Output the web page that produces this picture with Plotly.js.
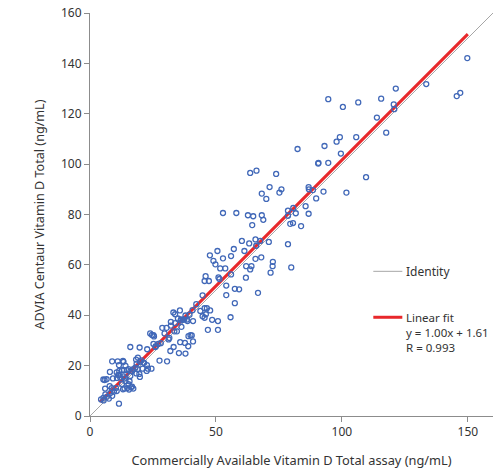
<!DOCTYPE html>
<html><head><meta charset="utf-8">
<script src="https://cdn.plot.ly/plotly-3.0.1.min.js"></script>
<style>html,body{margin:0;padding:0;background:#fff}#chart{width:504px;height:475px}</style>
</head><body><div id="chart"></div>
<script>
// Sample values: Commercial assay (x) vs ADVIA Centaur (y), ng/mL
const commercial = [149.8,145.6,147.0,133.5,121.4,120.6,120.8,115.6,94.6,100.4,106.5,113.9,117.6,99.2,97.9,105.7,82.4,93.1,99.6,90.6,90.7,94.6,109.6,86.8,86.9,88.5,92.7,101.8,89.8,85.6,86.8,83.8,80.7,81.7,80.6,
63.6,66.1,73.9,71.3,76.0,75.2,68.2,70.0,58.1,52.8,62.7,64.8,68.2,68.8,64.4,78.6,78.6,79.5,60.3,65.7,63.2,71.0,66.0,67.6,57.1,61.3,78.6,56.0,65.7,68.0,72.6,72.5,62.0,64.1,63.6,79.9,71.7,61.9,56.0,47.6,50.6,49.0,49.8,52.8,51.7,53.7,66.7,
57.5,59.2,54.1,54.1,57.5,55.8,45.9,45.5,47.2,51.0,51.4,44.7,48.5,50.8,46.8,50.8,45.5,46.4,43.8,47.7,46.0,45.5,44.7,42.2,40.7,39.5,38.5,37.0,36.0,37.9,40.9,38.7,32.1,32.1,33.8,30.4,28.7,33.1,33.8,35.7,34.5,40.4,25.2,23.9,31.5,29.6,36.3,33.5,24.6,25.4,26.1,28.1,31.2,31.9,33.2,27.6,30.6,35.3,37.9,35.8,37.7,39.1,39.0,39.9,40.9,
16.0,19.7,19.0,18.3,19.8,18.5,21.5,22.6,20.9,23.0,24.4,22.5,13.3,12.7,14.7,16.7,18.4,22.7,8.8,13.1,11.0,20.4,21.2,11.5,13.5,15.3,16.1,17.2,18.0,18.9,14.1,7.9,10.6,11.5,10.7,12.0,13.3,13.9,16.0,14.1,15.7,15.3,14.8,16.7,15.5,16.3,17.2,13.1,13.7,12.7,19.8,9.1,5.3,5.8,6.6,6.0,7.8,8.6,6.1,6.7,5.3,4.4,5.4,7.5,8.8,8.1,9.5,10.3,10.6,11.5,19.6,11.6,11.2,25.2,27.1,26.0,37.4,36.1,34.9];
const centaur = [142.1,127.0,128.3,131.8,130.0,123.7,121.8,126.0,125.8,122.7,124.5,118.5,112.5,110.7,108.9,110.7,106.0,107.2,104.2,100.2,100.5,100.5,94.8,90.9,90.0,89.7,89.1,88.7,86.4,83.3,80.3,75.4,82.6,80.5,76.6,
96.5,97.4,96.1,90.9,90.0,88.7,88.3,86.2,80.6,80.6,79.7,79.3,79.7,77.9,75.8,81.5,79.5,76.3,69.5,70.1,68.5,69.1,67.6,69.5,66.3,65.5,68.2,63.5,62.4,63.0,61.2,59.5,59.5,59.5,58.2,59.0,56.9,54.9,56.2,63.8,65.5,61.6,60.2,62.6,58.6,58.6,48.9,
50.5,50.3,51.8,48.0,44.8,39.2,55.5,53.6,53.6,55.0,54.4,47.9,38.2,37.7,34.2,34.2,42.8,42.8,41.7,41.9,40.4,39.0,39.6,44.4,42.0,40.2,38.3,38.3,37.9,39.9,37.7,37.7,37.4,35.9,36.9,35.0,35.0,41.1,40.4,41.9,33.6,32.0,32.1,32.8,31.0,32.8,35.4,33.6,32.2,31.6,27.7,28.9,30.4,25.8,27.4,22.0,21.7,25.0,24.8,29.3,29.0,31.7,27.7,32.1,29.6,
27.4,27.2,23.2,22.4,21.5,20.8,21.1,20.2,18.8,18.8,18.8,17.9,21.5,18.2,18.2,17.8,16.9,26.5,21.7,21.9,21.7,22.1,21.2,20.2,18.2,18.6,17.9,18.6,19.2,18.6,19.9,17.5,17.3,16.2,15.1,15.3,15.7,14.9,15.9,13.8,13.8,12.6,11.1,11.7,10.5,11.4,10.9,10.6,10.9,12.7,15.5,14.9,14.5,14.3,14.6,10.9,11.9,11.1,8.6,7.6,7.2,6.6,6.2,6.9,8.0,9.1,9.7,11.1,9.9,4.9,16.7,17.9,16.3,28.6,28.6,27.4,38.3,38.4,38.7];
const identityX = [0, 160];
const fitSlope = 1.00, fitIntercept = 1.61;
const fitX = [4, 150];
const xTicks = [0, 50, 100, 150];
const yTicks = [0, 20, 40, 60, 80, 100, 120, 140, 160];
const xTitle = 'Commercially Available Vitamin D Total assay (ng/mL)';
const yTitle = 'ADVIA Centaur Vitamin D Total (ng/mL)';
const legendTexts = ['Identity', 'Linear fit', 'y = 1.00x + 1.61', 'R = 0.993'];

const FONT = 'Noto Sans, Open Sans, sans-serif';
const traces = [
  {x: identityX, y: identityX, mode: 'lines', line: {color: '#a6a6a6', width: 1}, hoverinfo: 'skip', showlegend: false},
  {x: fitX, y: fitX.map(v => fitSlope * v + fitIntercept), mode: 'lines', line: {color: '#e8282b', width: 3}, hoverinfo: 'skip', showlegend: false},
  {x: commercial, y: centaur, mode: 'markers', cliponaxis: false,
   marker: {symbol: 'circle-open', size: 5, color: '#4168b8', line: {width: 1.3, color: '#4168b8'}}, showlegend: false}
];
const axisCommon = {showgrid: false, zeroline: false, showline: true, linecolor: '#8c8c8c', linewidth: 1,
  ticks: 'outside', ticklen: 5, tickcolor: '#8c8c8c', tickfont: {family: FONT, size: 12, color: '#333'}, fixedrange: true};
const layout = {
  width: 504, height: 475, paper_bgcolor: '#fff', plot_bgcolor: '#fff',
  margin: {l: 90, r: 11, t: 13, b: 59},
  font: {family: FONT, color: '#333'},
  xaxis: Object.assign({}, axisCommon, {range: [0, 160], tickvals: xTicks, ticktext: xTicks.map(String),
    title: {text: xTitle, font: {family: FONT, size: 12.8, color: '#333'}, standoff: 16}}),
  yaxis: Object.assign({}, axisCommon, {range: [0, 160], tickvals: yTicks, ticktext: yTicks.map(String),
    title: {text: yTitle, font: {family: FONT, size: 12.6, color: '#333'}, standoff: 13}}),
  shapes: [
    {type: 'line', xref: 'paper', yref: 'paper', x0: 0.703, x1: 0.775, y0: 0.359, y1: 0.359, line: {color: '#a6a6a6', width: 1}},
    {type: 'line', xref: 'paper', yref: 'paper', x0: 0.703, x1: 0.775, y0: 0.245, y1: 0.245, line: {color: '#e8282b', width: 3}}
  ],
  annotations: [
    {xref: 'paper', yref: 'paper', x: 0.78, y: 0.359, text: legendTexts[0], showarrow: false, xanchor: 'left', yanchor: 'middle', font: {family: FONT, size: 12, color: '#333'}},
    {xref: 'paper', yref: 'paper', x: 0.78, y: 0.268, text: legendTexts.slice(1).join('<br>'), showarrow: false, xanchor: 'left', yanchor: 'top', align: 'left', font: {family: FONT, size: 11.5, color: '#333'}}
  ],
  showlegend: false
};
Plotly.newPlot('chart', traces, layout, {displayModeBar: false, staticPlot: true});
</script></body></html>
